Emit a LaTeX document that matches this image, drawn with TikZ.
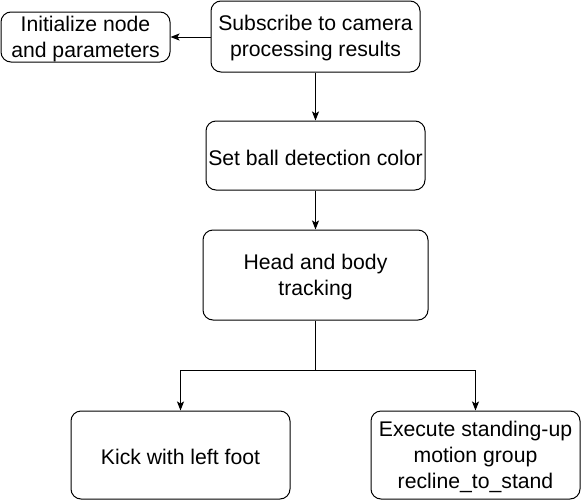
\documentclass[tikz,border=0pt]{standalone}
\usepackage{fontspec}
\setmainfont{Liberation Sans}
\usetikzlibrary{arrows.meta}
\begin{document}
\begin{tikzpicture}[x=1pt,y=-1pt,
  box/.style={draw, line width=1pt, rounded corners=10pt, inner sep=0pt},
  txt/.style={align=center, inner sep=0pt, yshift=-2pt, font=\fontsize{21.2}{26}\selectfont},
  conn/.style={line width=1pt, -{Stealth[length=9pt,width=7pt,inset=2pt]}}]
\useasboundingbox (0,0) rectangle (581,501);
\node[box, minimum width=169pt, minimum height=50pt, label={[txt]center:{Initialize node\\and parameters}}] (init) at (85.5,37) {};
\node[box, minimum width=209pt, minimum height=71pt, label={[txt]center:{Subscribe to camera\\processing results}}] (sub) at (315.5,36.5) {};
\node[box, minimum width=219pt, minimum height=69pt, label={[txt]center:{Set ball detection color}}] (set) at (315.5,155.5) {};
\node[box, minimum width=225pt, minimum height=90pt, label={[txt]center:{Head and body\\tracking}}] (head) at (315.5,275) {};
\node[box, minimum width=219pt, minimum height=88pt, label={[txt]center:{Kick with left foot}}] (kick) at (180.5,455) {};
\node[box, minimum width=209pt, minimum height=88pt, label={[txt]center:{Execute standing-up\\motion group\\recline\_to\_stand}}] (exec) at (475.5,455) {};
\coordinate (j) at (315.5,370);
\draw[conn] (sub.west |- init.east) -- (init.east);
\draw[conn] (sub.south) -- (set.north);
\draw[conn] (set.south) -- (head.north);
\draw[line width=1pt] (head.south) -- (j);
\draw[conn] (j) -| (kick.north);
\draw[conn] (j) -| (exec.north);
\end{tikzpicture}
\end{document}
